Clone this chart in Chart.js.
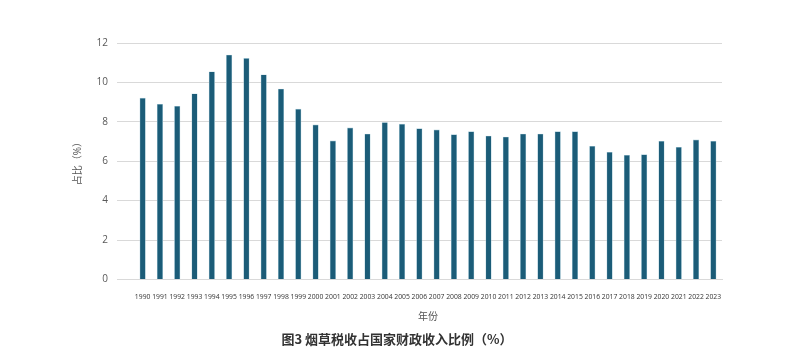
<!DOCTYPE html>
<html>
<head>
<meta charset="utf-8">
<script src="https://cdn.jsdelivr.net/npm/chart.js@4"></script>
<style>
  html, body { margin: 0; padding: 0; background: #fff; }
  #wrap { width: 811px; height: 361px; }
</style>
</head>
<body>
<div id="wrap"><canvas id="taxChart" width="811" height="361"></canvas></div>
<script>
const years = ["1990", "1991", "1992", "1993", "1994", "1995", "1996", "1997", "1998", "1999",
  "2000", "2001", "2002", "2003", "2004", "2005", "2006", "2007", "2008", "2009",
  "2010", "2011", "2012", "2013", "2014", "2015", "2016", "2017", "2018", "2019",
  "2020", "2021", "2022", "2023"];
const shares = [9.20, 8.89, 8.79, 9.42, 10.54, 11.39, 11.22, 10.39, 9.66, 8.64,
  7.84, 7.03, 7.69, 7.38, 7.96, 7.88, 7.65, 7.59, 7.35, 7.50,
  7.28, 7.23, 7.38, 7.38, 7.50, 7.50, 6.76, 6.45, 6.30, 6.33,
  7.01, 6.71, 7.08, 7.01];
const yTicks = [0, 2, 4, 6, 8, 10, 12];

const fontFam = "'Open Sans', 'Noto Sans CJK SC', sans-serif";

const ctx = document.getElementById("taxChart").getContext("2d");
const taxChart = new Chart(ctx, {
  type: "bar",
  data: {
    labels: years,
    datasets: [{
      label: "占比",
      data: shares,
      backgroundColor: "#1b5c78",
      borderColor: "#a9cbd8",
      borderWidth: { left: 0.6, right: 0.6, top: 0.6, bottom: 0 },
      barThickness: 5.5,
    }],
  },
  options: {
    responsive: false,
    animation: false,
    layout: { padding: { left: 72, right: 89, top: 43, bottom: 10 } },
    plugins: {
      legend: { display: false },
      tooltip: { enabled: false },
      title: {
        display: true,
        position: "bottom",
        text: "图3 烟草税收占国家财政收入比例（%）",
        color: "#333",
        font: { family: "'Noto Sans CJK SC', 'Open Sans', sans-serif", size: 13, weight: "600" },
        padding: { top: 8, bottom: 4 },
      },
    },
    scales: {
      x: {
        grid: { display: false },
        border: { display: true, color: "#d9d9d9", width: 1 },
        ticks: {
          autoSkip: false,
          maxRotation: 0,
          minRotation: 0,
          color: "#333",
          padding: 6,
          font: { family: fontFam, size: 6.8 },
        },
        title: {
          display: true,
          text: "年份",
          color: "#555",
          padding: { top: 6, bottom: 0 },
          font: { family: fontFam, size: 10 },
        },
        afterFit(scale) { scale.height = 44; },
      },
      y: {
        min: 0,
        max: 12,
        afterBuildTicks(scale) { scale.ticks = yTicks.map(v => ({ value: v })); },
        grid: { color: "#d9d9d9", tickLength: 17, drawTicks: true, tickColor: "#d9d9d9" },
        border: { display: false },
        ticks: {
          color: "#595959",
          padding: 9,
          font: { family: fontFam, size: 10 },
        },
        title: {
          display: true,
          text: "占比（%）",
          color: "#555",
          padding: 0,
          font: { family: fontFam, size: 10 },
        },
        afterFit(scale) { scale.width = 62; },
      },
    },
  },
});
</script>
</body>
</html>
